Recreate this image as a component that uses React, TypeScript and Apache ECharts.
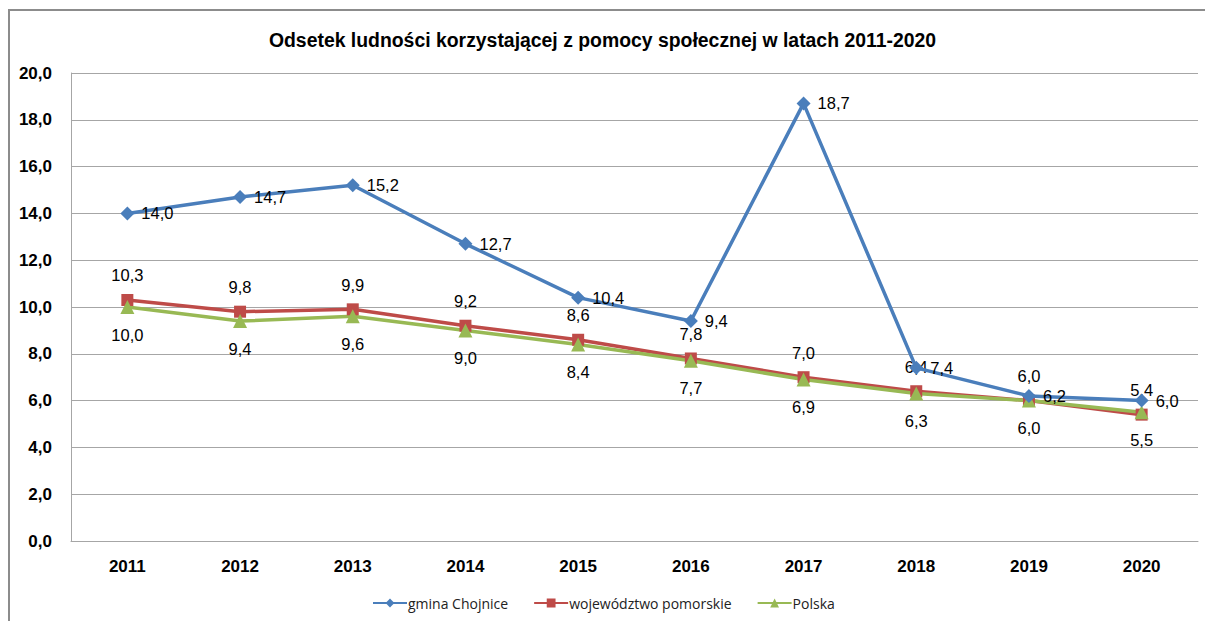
import React, { useEffect, useRef } from "react";
import * as echarts from "echarts";

const years = ["2011", "2012", "2013", "2014", "2015", "2016", "2017", "2018", "2019", "2020"];
const gminaChojnice = [14.0, 14.7, 15.2, 12.7, 10.4, 9.4, 18.7, 7.4, 6.2, 6.0];
const wojPomorskie = [10.3, 9.8, 9.9, 9.2, 8.6, 7.8, 7.0, 6.4, 6.0, 5.4];
const polska = [10.0, 9.4, 9.6, 9.0, 8.4, 7.7, 6.9, 6.3, 6.0, 5.5];
const titleText = "Odsetek ludności korzystającej z pomocy społecznej w latach 2011-2020";

const fmt = (v: number) => v.toFixed(1).replace(".", ",");
const narrow = "'Liberation Sans Narrow', 'Arial Narrow', 'Liberation Sans', Arial, sans-serif";

export default function App() {
  const ref = useRef<HTMLDivElement>(null);
  useEffect(() => {
    if (!ref.current) return;
    const chart = echarts.init(ref.current, undefined, { renderer: "svg" });
    const labelStyle = {
      show: true,
      fontFamily: narrow,
      fontSize: 16.5,
      color: "#000",
      formatter: (p: any) => fmt(p.value),
    };
    chart.setOption({
      animation: false,
      backgroundColor: "#fff",
      graphic: [
        {
          type: "rect",
          shape: { x: 9, y: 10, width: 1210, height: 630 },
          style: { fill: "none", stroke: "#8c8c8c", lineWidth: 2 },
          silent: true,
        },
      ],
      title: {
        text: titleText,
        left: "center",
        top: 25,
        textStyle: { fontFamily: narrow, fontSize: 19.4, fontWeight: "bold", color: "#000" },
      },
      legend: {
        bottom: 6,
        left: 367,
        itemWidth: 34,
        itemHeight: 11,
        itemGap: 25,
        textStyle: {
          fontFamily: "'Open Sans', 'Liberation Sans', sans-serif",
          fontSize: 14,
          color: "#222",
          padding: [0, 0, 0, -4],
        },
        data: ["gmina Chojnice", "województwo pomorskie", "Polska"],
      },
      grid: { left: 71, right: 7, top: 73, bottom: 80, containLabel: false },
      xAxis: {
        type: "category",
        data: years,
        boundaryGap: true,
        axisLine: { lineStyle: { color: "#a6a6a6", width: 1 } },
        axisTick: { show: false },
        axisLabel: { fontFamily: narrow, fontSize: 17, fontWeight: "bold", color: "#000", margin: 17 },
      },
      yAxis: {
        type: "value",
        min: 0,
        max: 20,
        interval: 2,
        axisLine: { show: true, lineStyle: { color: "#a6a6a6", width: 1 } },
        axisTick: { show: false },
        splitLine: { lineStyle: { color: "#a6a6a6", width: 1 } },
        axisLabel: {
          fontFamily: narrow,
          fontSize: 17,
          fontWeight: "bold",
          color: "#000",
          margin: 19,
          formatter: (v: number) => fmt(v),
        },
      },
      series: [
        {
          name: "gmina Chojnice",
          type: "line",
          data: gminaChojnice,
          symbol: "diamond",
          symbolSize: 14,
          lineStyle: { color: "#4a7ebb", width: 3.5 },
          itemStyle: { color: "#4a7ebb" },
          label: { ...labelStyle, position: "right", distance: 7 },
          z: 3,
        },
        {
          name: "województwo pomorskie",
          type: "line",
          data: wojPomorskie,
          symbol: "rect",
          symbolSize: 12,
          lineStyle: { color: "#be4b48", width: 3.5 },
          itemStyle: { color: "#be4b48" },
          label: { ...labelStyle, position: "top", distance: 10 },
          z: 2,
        },
        {
          name: "Polska",
          type: "line",
          data: polska,
          symbol: "triangle",
          symbolSize: 14,
          lineStyle: { color: "#98b954", width: 3.5 },
          itemStyle: { color: "#98b954" },
          label: { ...labelStyle, position: "bottom", distance: 12 },
          z: 2,
        },
      ],
    });
    return () => chart.dispose();
  }, []);
  return (
    <div
      ref={ref}
      style={{ position: "absolute", left: 0, top: 0, width: 1205, height: 621 }}
    />
  );
}
